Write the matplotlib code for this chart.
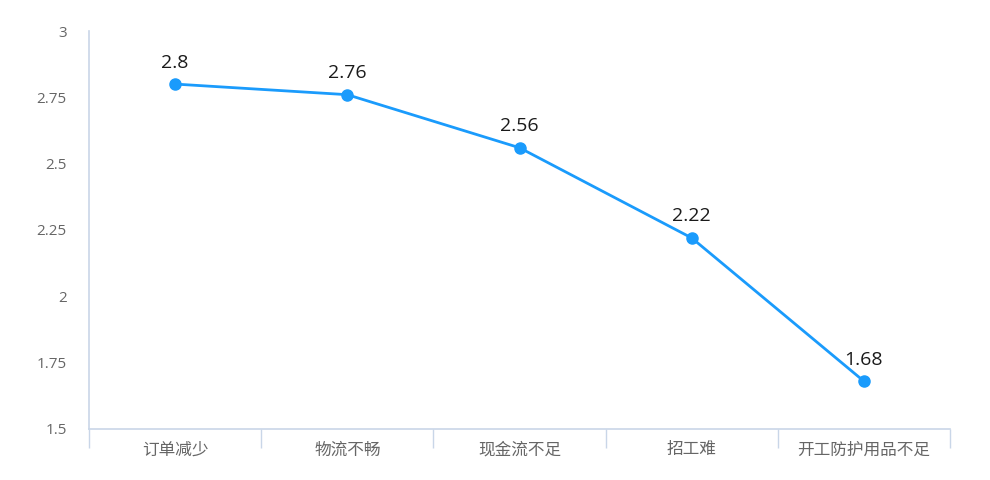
"""Line chart: average score of difficulties faced on resuming work"""
import numpy as np
import matplotlib
matplotlib.use('Agg')
import matplotlib.pyplot as plt
from matplotlib.ticker import FixedLocator

plt.rcParams['font.family'] = ['Noto Sans CJK SC', 'DejaVu Sans']

categories = ['订单减少', '物流不畅', '现金流不足', '招工难', '开工防护用品不足']
scores = [2.8, 2.76, 2.56, 2.22, 1.68]
y_ticks = [1.5, 1.75, 2, 2.25, 2.5, 2.75, 3]
y_tick_labels = ['1.5', '1.75', '2', '2.25', '2.5', '2.75', '3']

line_color = '#1a9bfc'
axis_color = '#c9d6e8'
text_grey = '#666666'

fig = plt.figure(figsize=(9.9, 4.8), dpi=100)
ax = fig.add_axes([0.0899, 0.1063, 0.8697, 0.8291])

x = np.arange(len(categories))
ax.plot(x, scores, color=line_color, linewidth=2, marker='o',
        markersize=8, markerfacecolor=line_color, markeredgecolor=line_color,
        zorder=3)

for xi, yi in zip(x, scores):
    ax.annotate('{:g}'.format(yi), (xi, yi), xytext=(0, 9),
                textcoords='offset points', ha='center', va='bottom',
                fontsize=14, color='#1a1a1a', family=['Open Sans', 'DejaVu Sans'])

ax.set_xlim(-0.5, len(categories) - 0.5)
ax.set_ylim(1.5, 3)

ax.set_xticks(x)
ax.set_xticklabels(categories, fontsize=12, color=text_grey)
ax.xaxis.set_minor_locator(FixedLocator(np.arange(-0.5, len(categories), 1.0)))
ax.tick_params(axis='x', which='major', length=0, pad=9)
ax.tick_params(axis='x', which='minor', length=14, width=1, color=axis_color)

ax.set_yticks(y_ticks)
ax.set_yticklabels(y_tick_labels, fontsize=11, color=text_grey,
                   family=['Open Sans', 'DejaVu Sans'])
ax.tick_params(axis='y', length=0, pad=16)

for side in ('top', 'right'):
    ax.spines[side].set_visible(False)
for side in ('left', 'bottom'):
    ax.spines[side].set_color(axis_color)
    ax.spines[side].set_linewidth(1.2)

plt.savefig('out.png', dpi=100)
